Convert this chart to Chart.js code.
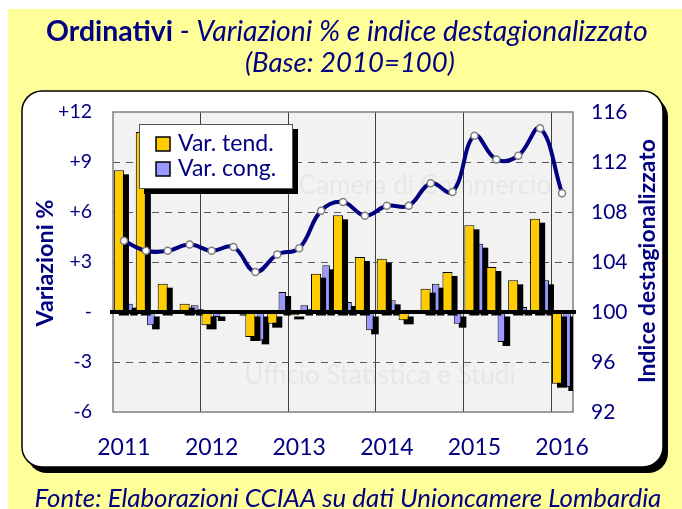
<!DOCTYPE html>
<html lang="it">
<head>
    <meta charset="UTF-8">
    <title>Ordinativi - Variazioni % e indice destagionalizzato</title>
    <script src="https://cdn.jsdelivr.net/npm/chart.js"></script>
    <style>
        body { margin: 0; background: #fff; }
        canvas { display: block; }
    </style>
</head>
<body>
    <canvas id="ordinativiChart" width="682" height="509"></canvas>
    <script>
        // Trimestri (etichetta mostrata solo sul I trimestre)
        const trimestri = [
            'I 2011', 'II 2011', 'III 2011', 'IV 2011',
            'I 2012', 'II 2012', 'III 2012', 'IV 2012',
            'I 2013', 'II 2013', 'III 2013', 'IV 2013',
            'I 2014', 'II 2014', 'III 2014', 'IV 2014',
            'I 2015', 'II 2015', 'III 2015', 'IV 2015',
            'I 2016'
        ];
        // Variazione tendenziale %
        const varTend = [8.5, 10.8, 1.7, 0.5, -0.8, 0.0, -1.5, -0.7, -0.2, 2.3, 5.8, 3.3, 3.2, -0.5, 1.4, 2.4, 5.2, 2.7, 1.9, 5.6, -4.3];
        // Variazione congiunturale %
        const varCong = [0.5, -0.8, 0.0, 0.4, -0.3, 0.1, -1.7, 1.2, 0.4, 2.8, 0.6, -1.1, 0.7, 0.0, 1.7, -0.7, 4.1, -1.8, 0.3, 1.9, -4.5];
        // Indice destagionalizzato (2010=100)
        const indice = [105.7, 104.9, 104.9, 105.4, 104.9, 105.2, 103.2, 104.6, 105.1, 108.1, 108.8, 107.7, 108.5, 108.5, 110.3, 109.6, 114.1, 112.2, 112.5, 114.7, 109.5];

        const NAVY = '#000080';
        const FONT = 'Lato, "Open Sans", sans-serif';

        function roundRect(ctx, x, y, w, h, r) {
            ctx.beginPath();
            ctx.moveTo(x + r, y);
            ctx.arcTo(x + w, y, x + w, y + h, r);
            ctx.arcTo(x + w, y + h, x, y + h, r);
            ctx.arcTo(x, y + h, x, y, r);
            ctx.arcTo(x, y, x + w, y, r);
            ctx.closePath();
        }

        // scrive una riga composta da piu' parti, adattando la dimensione alla larghezza voluta
        function fitLine(ctx, parts, cx, cy, target) {
            const base = 20;
            let w = 0;
            parts.forEach(p => {
                ctx.font = `${p.style || 'normal'} ${p.weight || 'normal'} ${base}px ${FONT}`;
                w += ctx.measureText(p.text).width;
            });
            const size = base * target / w;
            let x = cx - target / 2;
            ctx.textAlign = 'left';
            ctx.textBaseline = 'middle';
            parts.forEach(p => {
                ctx.font = `${p.style || 'normal'} ${p.weight || 'normal'} ${size}px ${FONT}`;
                ctx.fillText(p.text, x, cy);
                x += ctx.measureText(p.text).width;
            });
        }

        const sfondo = {
            id: 'sfondo',
            beforeDraw(chart) {
                const { ctx, chartArea: a } = chart;
                ctx.save();
                ctx.fillStyle = '#fff';
                ctx.fillRect(0, 0, 682, 509);
                ctx.fillStyle = '#FFFF99';
                ctx.fillRect(8, 9, 674, 500);

                // riquadro bianco con ombra
                roundRect(ctx, 27, 97, 641, 376, 20);
                ctx.fillStyle = '#000';
                ctx.fill();
                roundRect(ctx, 22, 91, 641, 376, 20);
                ctx.fillStyle = '#fff';
                ctx.fill();
                ctx.lineWidth = 1.5;
                ctx.strokeStyle = '#000';
                ctx.stroke();

                // titoli
                ctx.fillStyle = NAVY;
                fitLine(ctx, [
                    { text: 'Ordinativi', weight: 'bold' },
                    { text: ' - Variazioni % e indice destagionalizzato', style: 'italic' }
                ], 347, 32, 602);
                fitLine(ctx, [{ text: '(Base: 2010=100)', style: 'italic' }], 350, 63, 210);
                fitLine(ctx, [{ text: 'Fonte: Elaborazioni CCIAA su dati Unioncamere Lombardia', style: 'italic' }], 348, 499, 627);

                // area del grafico
                ctx.fillStyle = '#F2F2F2';
                ctx.fillRect(a.left, a.top, a.right - a.left, a.bottom - a.top);

                // filigrana
                ctx.fillStyle = '#E7E7E7';
                ctx.textAlign = 'center';
                ctx.textBaseline = 'middle';
                ctx.font = `26px ${FONT}`;
                ctx.fillText('Camera di Commercio', 425, 186);
                ctx.fillText('Ufficio Statistica e Studi', 380, 376);
                ctx.restore();
            },
            beforeDatasetsDraw(chart) {
                const { ctx, chartArea: a } = chart;
                ctx.save();
                ctx.strokeStyle = '#808080';
                ctx.lineWidth = 1.5;
                ctx.strokeRect(a.left, a.top, a.right - a.left, a.bottom - a.top);
                ctx.restore();
            },
            // ombra nera sotto ogni barra
            beforeDatasetDraw(chart, args) {
                if (args.meta.type !== 'bar') return;
                const { ctx, chartArea: a } = chart;
                ctx.save();
                ctx.beginPath();
                ctx.rect(a.left, a.top, a.right - a.left, a.bottom - a.top);
                ctx.clip();
                ctx.fillStyle = '#000';
                args.meta.data.forEach(bar => {
                    const { x, y, base, width } = bar.getProps(['x', 'y', 'base', 'width'], true);
                    const top = Math.min(y, base), h = Math.abs(base - y);
                    if (h < 0.5) return;
                    ctx.fillRect(x - width / 2 + 5, top + 4, width, h);
                });
                ctx.restore();
            },
            afterDatasetsDraw(chart) {
                const { ctx, chartArea: a } = chart;
                const y0 = chart.scales.y.getPixelForValue(0);
                ctx.save();
                ctx.strokeStyle = '#000';
                ctx.lineWidth = 4;
                ctx.beginPath();
                ctx.moveTo(a.left - 3, y0);
                ctx.lineTo(a.right + 3, y0);
                ctx.stroke();
                ctx.restore();
            },
            afterDraw(chart) {
                const ctx = chart.ctx;
                ctx.save();
                // titoli degli assi
                ctx.fillStyle = NAVY;
                ctx.translate(45, 263);
                ctx.rotate(-Math.PI / 2);
                fitLine(ctx, [{ text: 'Variazioni %', weight: 'bold' }], 0, 0, 127);
                ctx.setTransform(1, 0, 0, 1, 0, 0);
                ctx.translate(648, 261);
                ctx.rotate(-Math.PI / 2);
                fitLine(ctx, [{ text: 'Indice destagionalizzato', weight: 'bold' }], 0, 0, 244);
                ctx.setTransform(1, 0, 0, 1, 0, 0);

                // legenda
                ctx.fillStyle = '#000';
                ctx.fillRect(144, 129, 154, 65);
                ctx.fillStyle = '#fff';
                ctx.fillRect(139, 124, 154, 65);
                ctx.strokeStyle = '#555';
                ctx.lineWidth = 1;
                ctx.strokeRect(139.5, 124.5, 153, 64);
                chart.data.datasets.filter(d => d.type !== 'line').forEach((d, i) => {
                    const y = 137 + i * 25;
                    ctx.fillStyle = d.backgroundColor;
                    ctx.fillRect(156, y, 14, 14);
                    ctx.strokeStyle = '#000';
                    ctx.lineWidth = 1.5;
                    ctx.strokeRect(156, y, 14, 14);
                    ctx.fillStyle = NAVY;
                    ctx.font = `23px ${FONT}`;
                    ctx.textAlign = 'left';
                    ctx.textBaseline = 'middle';
                    ctx.fillText(d.label, 178, y + 7);
                });
                ctx.restore();
            }
        };

        new Chart(document.getElementById('ordinativiChart'), {
            type: 'bar',
            data: {
                labels: trimestri,
                datasets: [
                    {
                        type: 'line',
                        label: 'Indice destagionalizzato',
                        data: indice,
                        yAxisID: 'y1',
                        borderColor: NAVY,
                        borderWidth: 4,
                        tension: 0.4,
                        pointRadius: 3.5,
                        pointBackgroundColor: '#fff',
                        pointBorderColor: '#808080',
                        pointBorderWidth: 1.5,
                        order: 0
                    },
                    {
                        label: 'Var. tend.',
                        data: varTend,
                        yAxisID: 'y',
                        backgroundColor: '#FFCC00',
                        borderColor: '#000',
                        borderWidth: 1,
                        categoryPercentage: 0.92,
                        barPercentage: 1.0,
                        order: 1
                    },
                    {
                        label: 'Var. cong.',
                        data: varCong,
                        yAxisID: 'y',
                        backgroundColor: '#9999FF',
                        borderColor: '#000',
                        borderWidth: 1,
                        categoryPercentage: 0.92,
                        barPercentage: 0.75,
                        order: 1
                    }
                ]
            },
            options: {
                responsive: false,
                devicePixelRatio: 1,
                animation: false,
                layout: { padding: { left: 22, right: 14, top: 112, bottom: 40 } },
                plugins: { legend: { display: false }, tooltip: { enabled: false } },
                scales: {
                    x: {
                        grid: {
                            offset: true,
                            drawTicks: false,
                            color: c => (c.index > 0 && c.index < trimestri.length && c.index % 4 === 0) ? '#404040' : 'transparent'
                        },
                        border: { display: false },
                        ticks: {
                            autoSkip: false,
                            maxRotation: 0,
                            padding: 22,
                            color: NAVY,
                            font: { family: FONT, size: 23 },
                            callback: (v, i) => trimestri[i].startsWith('I ') ? trimestri[i].slice(2) : ''
                        },
                        afterFit: s => { s.height = 57; s.paddingLeft = 0; s.paddingRight = 0; }
                    },
                    y: {
                        position: 'left',
                        min: -6,
                        max: 12,
                        grid: {
                            drawTicks: false,
                            color: c => [0, 12, -6].includes(c.tick.value) ? 'transparent' : '#595959'
                        },
                        border: { display: false, dash: [7, 6] },
                        ticks: {
                            stepSize: 3,
                            padding: 21,
                            color: NAVY,
                            font: { family: FONT, size: 19.5 },
                            callback: v => v > 0 ? '+' + v : (v === 0 ? '-' : String(v))
                        },
                        afterFit: s => { s.width = 91; s.paddingTop = 0; s.paddingBottom = 0; }
                    },
                    y1: {
                        position: 'right',
                        min: 92,
                        max: 116,
                        grid: { drawOnChartArea: false, drawTicks: false },
                        border: { display: false },
                        ticks: {
                            stepSize: 4,
                            padding: 18,
                            color: NAVY,
                            font: { family: FONT, size: 21 }
                        },
                        afterFit: s => { s.width = 95; s.paddingTop = 0; s.paddingBottom = 0; }
                    }
                }
            },
            plugins: [sfondo]
        });
    </script>
</body>
</html>
